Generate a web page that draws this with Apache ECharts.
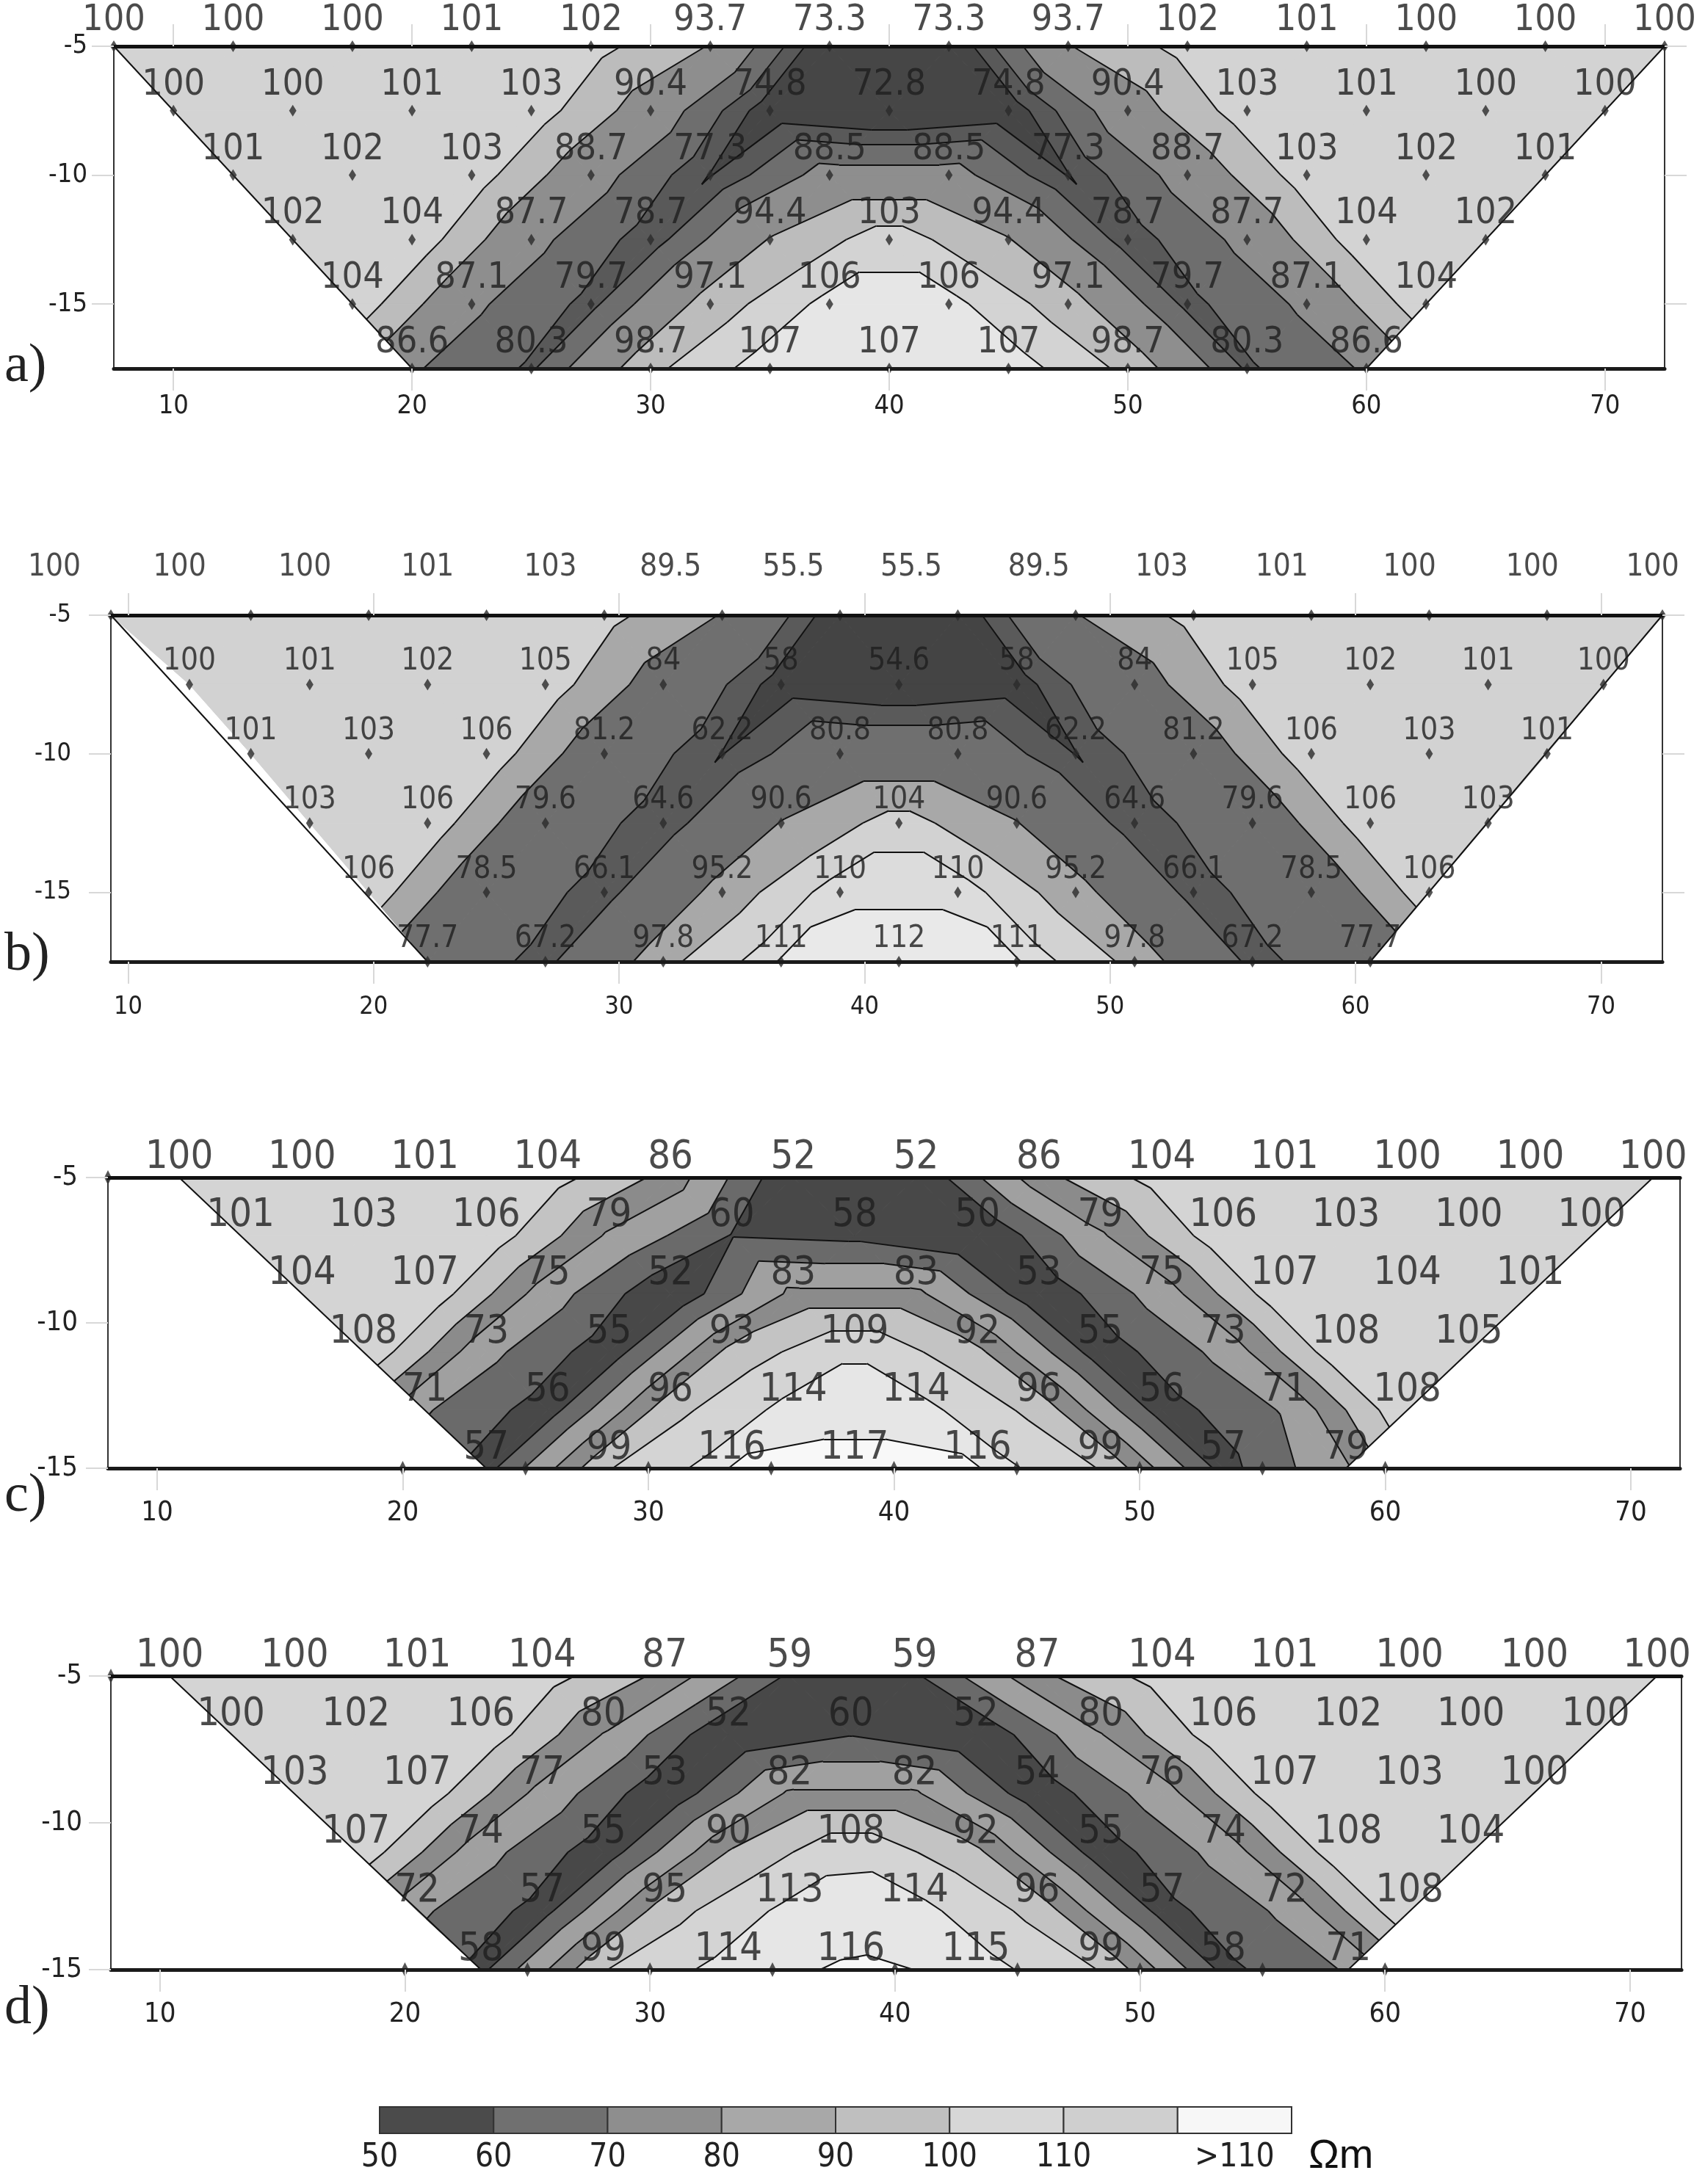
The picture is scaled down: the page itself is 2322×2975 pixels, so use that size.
<!DOCTYPE html>
<html>
<head>
<meta charset="utf-8">
<script src="https://cdn.jsdelivr.net/npm/echarts@6/dist/echarts.min.js"></script>
<style>
  html, body { margin: 0; padding: 0; background: #fff; }
  #chart { width: 2322px; height: 2975px; }
</style>
</head>
<body>
<div id="chart"></div>
<script>
// axis ticks shared by all four sections
const xTicks = [10, 20, 30, 40, 50, 60, 70]
const yTicks = [-15, -10, -5]

// section a : node positions (half-spacing), depth of each row, values per row
const aX = [7.5, 10, 12.5, 15, 17.5, 20, 22.5, 25, 27.5, 30, 32.5, 35, 37.5, 40, 42.5, 45, 47.5, 50, 52.5, 55, 57.5, 60, 62.5, 65, 67.5, 70, 72.5]
const aDepth = [-5, -7.5, -10, -12.5, -15, -17.5]
const aRows = [
  [100, 100, 100, 101, 102, 93.7, 73.3, 73.3, 93.7, 102, 101, 100, 100, 100],
  [100, 100, 101, 103, 90.4, 74.8, 72.8, 74.8, 90.4, 103, 101, 100, 100],
  [101, 102, 103, 88.7, 77.3, 88.5, 88.5, 77.3, 88.7, 103, 102, 101],
  [102, 104, 87.7, 78.7, 94.4, 103, 94.4, 78.7, 87.7, 104, 102],
  [104, 87.1, 79.7, 97.1, 106, 106, 97.1, 79.7, 87.1, 104],
  [86.6, 80.3, 98.7, 107, 107, 107, 98.7, 80.3, 86.6]
]
const aLevels = [77.5, 81, 86, 94, 99.9, 104.5]

// section b
const bX = [9.3, 12.5, 15.0, 17.4, 19.8, 22.2, 24.6, 27.0, 29.4, 31.8, 34.2, 36.6, 39.0, 41.4, 43.8, 46.2, 48.6, 51.0, 53.4, 55.8, 58.2, 60.6, 63.0, 65.4, 67.8, 70.1, 72.5]
const bDepth = [-5, -7.5, -10, -12.5, -15, -17.5]
const bRows = [
  [100, 100, 100, 101, 103, 89.5, 55.5, 55.5, 89.5, 103, 101, 100, 100, 100],
  [100, 101, 102, 105, 84, 58, 54.6, 58, 84, 105, 102, 101, 100],
  [101, 103, 106, 81.2, 62.2, 80.8, 80.8, 62.2, 81.2, 106, 103, 101],
  [103, 106, 79.6, 64.6, 90.6, 104, 90.6, 64.6, 79.6, 106, 103],
  [106, 78.5, 66.1, 95.2, 110, 110, 95.2, 66.1, 78.5, 106],
  [77.7, 67.2, 97.8, 111, 112, 111, 97.8, 67.2, 77.7]
]
// the surface-row labels of b are printed on their own spacing
const bTopLabelX = [7.0, 12.1, 17.2, 22.2, 27.2, 32.1, 37.1, 41.9, 47.1, 52.1, 57.0, 62.2, 67.2, 72.1]
const bLevels = [62.5, 70, 90, 99.9, 106.5, 110.5]

// section c
const cX = [10.9, 13.4, 15.9, 18.4, 20.9, 23.4, 25.9, 28.4, 30.9, 33.4, 35.9, 38.4, 40.9, 43.4, 45.9, 48.4, 50.9, 53.4, 55.9, 58.4, 60.9, 63.4, 65.9, 68.4, 70.9]
const cDepth = [-5, -7, -9, -11, -13, -15]
const cRows = [
  [100, 100, 101, 104, 86, 52, 52, 86, 104, 101, 100, 100, 100],
  [101, 103, 106, 79, 60, 58, 50, 79, 106, 103, 100, 100],
  [104, 107, 75, 52, 83, 83, 53, 75, 107, 104, 101],
  [108, 73, 55, 93, 109, 92, 55, 73, 108, 105],
  [71, 56, 96, 114, 114, 96, 56, 71, 108],
  [57, 99, 116, 117, 116, 99, 57, 79]
]
const cElectrodes = [[8, -5], [20, -15], [25, -15], [30, -15], [35, -15], [40, -15], [45, -15], [50, -15], [55, -15], [60, -15]]

// section d
const dX = [10.4, 12.9, 15.5, 18.0, 20.5, 23.1, 25.6, 28.1, 30.6, 33.2, 35.7, 38.2, 40.8, 43.3, 45.8, 48.4, 50.9, 53.4, 55.9, 58.5, 61.0, 63.5, 66.1, 68.6, 71.1]
const dDepth = [-5, -7, -9, -11, -13, -15]
const dRows = [
  [100, 100, 101, 104, 87, 59, 59, 87, 104, 101, 100, 100, 100],
  [100, 102, 106, 80, 52, 60, 52, 80, 106, 102, 100, 100],
  [103, 107, 77, 53, 82, 82, 54, 76, 107, 103, 100],
  [107, 74, 55, 90, 108, 92, 55, 74, 108, 104],
  [72, 57, 95, 113, 114, 96, 57, 72, 108],
  [58, 99, 114, 116, 115, 99, 58, 71]
]
const dElectrodes = [[8, -5], [20, -15], [25, -15], [30, -15], [35, -15], [40, -15], [45, -15], [50, -15], [55, -15], [60, -15]]
const cdLevels = [60.5, 70, 80.5, 89.5, 99.5, 110, 115.5]

// colour scale bar
const legendColors = ['#4b4b4b', '#707070', '#8e8e8e', '#a8a8a8', '#bfbfbf', '#d7d7d7', '#cfcfcf', '#f7f7f7']
const legendTickPos = [0, 1, 2, 3, 4, 5, 6, 7.5]
const legendTickLabels = ['50', '60', '70', '80', '90', '100', '110', '>110']

const COND = "'DejaVu Sans Condensed', 'DejaVu Sans', sans-serif"

const panels = [
  {
    xs: aX, depths: aDepth, rows: aRows, levels: aLevels, topLabelX: null,
    colors: ['#464646', '#595959', '#6e6e6e', '#8e8e8e', '#bcbcbc', '#d3d3d3', '#e6e6e6'],
    grid: { left: 155, top: 63, width: 2112, height: 439 },
    xMin: 7.5, xMax: 72.5, yMin: -17.5,
    labelSize: 50, axisSize: 36, xMargin: 34, yMargin: 36,
    nodeMarks: true, outerTicks: true, electrodes: null,
    tag: 'a)', tagY: 507
  },
  {
    xs: bX, depths: bDepth, rows: bRows, levels: bLevels, topLabelX: bTopLabelX,
    colors: ['#444444', '#5a5a5a', '#6f6f6f', '#a8a8a8', '#d2d2d2', '#dcdcdc', '#e9e9e9'],
    grid: { left: 151, top: 838, width: 2113, height: 472 },
    xMin: 9.3, xMax: 72.5, yMin: -17.5,
    labelSize: 42, axisSize: 34, xMargin: 45, yMargin: 54,
    nodeMarks: true, outerTicks: true, electrodes: null,
    tag: 'b)', tagY: 1309
  },
  {
    xs: cX, depths: cDepth, rows: cRows, levels: cdLevels, topLabelX: null,
    colors: ['#484848', '#6a6a6a', '#a0a0a0', '#8b8b8b', '#c3c3c3', '#d4d4d4', '#e6e6e6', '#f8f8f8'],
    grid: { left: 147, top: 1604, width: 2141, height: 396 },
    xMin: 8, xMax: 72, yMin: -15,
    labelSize: 54, axisSize: 38, xMargin: 42, yMargin: 41,
    nodeMarks: false, outerTicks: false, electrodes: cElectrodes,
    tag: 'c)', tagY: 2046
  },
  {
    xs: dX, depths: dDepth, rows: dRows, levels: cdLevels, topLabelX: null,
    colors: ['#484848', '#6a6a6a', '#a0a0a0', '#8b8b8b', '#c3c3c3', '#d4d4d4', '#e6e6e6', '#f8f8f8'],
    grid: { left: 151, top: 2283, width: 2139, height: 400 },
    xMin: 8, xMax: 72.1, yMin: -15,
    labelSize: 54, axisSize: 38, xMargin: 42, yMargin: 39,
    nodeMarks: false, outerTicks: false, electrodes: dElectrodes,
    tag: 'd)', tagY: 2744
  }
]

// node k of row r sits on the half-spacing column r + 2k
const buildNodes = (p) => p.rows.map((row, r) => row.map((v, k) => [p.xs[r + 2 * k], p.depths[r], v]))

const buildTriangles = (nodes) => {
  const tris = []
  for (let r = 0; r < nodes.length - 1; r++) {
    const up = nodes[r], dn = nodes[r + 1]
    for (let k = 0; k < dn.length; k++) {
      tris.push([up[k], up[k + 1], dn[k]])
      if (k < dn.length - 1) tris.push([dn[k], dn[k + 1], up[k + 1]])
    }
  }
  return tris
}

// keep the part of a polygon above (or below) a level, values interpolated linearly
const clipPoly = (poly, level, keepAbove) => {
  const out = []
  for (let i = 0; i < poly.length; i++) {
    const p = poly[i], q = poly[(i + 1) % poly.length]
    const pin = keepAbove ? p[2] >= level : p[2] < level
    const qin = keepAbove ? q[2] >= level : q[2] < level
    if (pin) out.push(p)
    if (pin !== qin) {
      const t = (level - p[2]) / (q[2] - p[2])
      out.push([p[0] + t * (q[0] - p[0]), p[1] + t * (q[1] - p[1]), level])
    }
  }
  return out
}

const buildBands = (tris, levels, colors) => {
  const polys = []
  tris.forEach(tri => {
    for (let b = 0; b <= levels.length; b++) {
      let poly = tri
      if (b > 0) poly = clipPoly(poly, levels[b - 1], true)
      if (poly.length >= 3 && b < levels.length) poly = clipPoly(poly, levels[b], false)
      if (poly.length >= 3) polys.push({ pts: poly, color: colors[b] })
    }
  })
  return polys
}

const buildContours = (tris, levels) => {
  const segs = []
  levels.forEach(L => {
    tris.forEach(t => {
      const pts = []
      for (let i = 0; i < 3; i++) {
        const p = t[i], q = t[(i + 1) % 3]
        if ((p[2] >= L) !== (q[2] >= L)) {
          const s = (L - p[2]) / (q[2] - p[2])
          pts.push([p[0] + s * (q[0] - p[0]), p[1] + s * (q[1] - p[1])])
        }
      }
      if (pts.length === 2) segs.push(pts)
    })
  })
  return segs
}

const chart = echarts.init(document.getElementById('chart'))
const option = {
  animation: false,
  backgroundColor: '#ffffff',
  grid: [], xAxis: [], yAxis: [], series: [], graphic: []
}

const tickStyle = { color: '#d8d8d8', width: 2 }

panels.forEach((p, i) => {
  const nodes = buildNodes(p)
  const tris = buildTriangles(nodes)
  const bands = buildBands(tris, p.levels, p.colors)
  const contours = buildContours(tris, p.levels)
  const first = nodes.map(row => row[0])
  const last = nodes.map(row => row[row.length - 1])
  const edges = [
    [first[0].slice(0, 2), first[first.length - 1].slice(0, 2)],
    [last[0].slice(0, 2), last[last.length - 1].slice(0, 2)]
  ]

  option.grid.push(Object.assign({}, p.grid))
  const xi = option.xAxis.length
  const yi = option.yAxis.length

  option.xAxis.push({
    gridIndex: i, type: 'value', position: 'bottom', min: p.xMin, max: p.xMax, z: 10,
    axisLine: { onZero: false, lineStyle: { color: '#1a1a1a', width: 5 } },
    axisTick: { show: true, length: 30, customValues: xTicks, lineStyle: tickStyle },
    axisLabel: { customValues: xTicks, margin: p.xMargin, fontFamily: COND, fontSize: p.axisSize, color: '#222' },
    splitLine: { show: false }
  })
  option.xAxis.push({
    gridIndex: i, type: 'value', position: 'top', min: p.xMin, max: p.xMax, z: 10,
    axisLine: { onZero: false, lineStyle: { color: '#111', width: 5 } },
    axisTick: { show: p.outerTicks, length: 30, customValues: xTicks, lineStyle: tickStyle },
    axisLabel: { show: false },
    splitLine: { show: false }
  })
  option.yAxis.push({
    gridIndex: i, type: 'value', position: 'left', min: p.yMin, max: -5, z: 10,
    axisLine: { show: true, onZero: false, lineStyle: { color: '#333', width: 2 } },
    axisTick: { show: true, length: 30, customValues: yTicks, lineStyle: tickStyle },
    axisLabel: { customValues: yTicks, margin: p.yMargin, fontFamily: COND, fontSize: p.axisSize, color: '#222' },
    splitLine: { show: false }
  })
  option.yAxis.push({
    gridIndex: i, type: 'value', position: 'right', min: p.yMin, max: -5, z: 10,
    axisLine: { show: true, onZero: false, lineStyle: { color: '#333', width: 2 } },
    axisTick: { show: p.outerTicks, length: 30, customValues: yTicks, lineStyle: tickStyle },
    axisLabel: { show: false },
    splitLine: { show: false }
  })

  // filled contour bands
  option.series.push({
    type: 'custom', xAxisIndex: xi, yAxisIndex: yi, z: 1, silent: true,
    data: bands.map(b => [b.pts[0][0], b.pts[0][1]]),
    renderItem: (params, api) => {
      const b = bands[params.dataIndex]
      return {
        type: 'polygon',
        shape: { points: b.pts.map(pt => api.coord([pt[0], pt[1]])) },
        style: { fill: b.color, stroke: b.color, lineWidth: 1 }
      }
    }
  })

  // contour lines and the section outline
  option.series.push({
    type: 'lines', coordinateSystem: 'cartesian2d', xAxisIndex: xi, yAxisIndex: yi, z: 3, silent: true,
    polyline: false,
    lineStyle: { color: '#111', width: 2, opacity: 1 },
    data: contours.concat(edges).map(s => ({ coords: s }))
  })

  // value labels (with node diamonds for a and b)
  const labelData = []
  nodes.forEach((row, r) => row.forEach(n => {
    if (r === 0 && p.topLabelX) labelData.push({ value: n, label: { show: false } })
    else labelData.push({ value: n })
  }))
  option.series.push({
    type: 'scatter', xAxisIndex: xi, yAxisIndex: yi, z: 5, silent: true, clip: false,
    symbol: 'diamond',
    symbolSize: p.nodeMarks ? [10, 16] : 0,
    itemStyle: { color: '#2a2a2a' },
    data: labelData,
    label: {
      show: true, position: 'top', distance: p.nodeMarks ? 2 : 0,
      formatter: (d) => String(d.value[2]),
      fontFamily: COND, fontSize: p.labelSize, color: '#1e1e1e'
    }
  })

  if (p.topLabelX) {
    option.series.push({
      type: 'scatter', xAxisIndex: xi, yAxisIndex: yi, z: 5, silent: true, clip: false,
      symbolSize: 0,
      data: nodes[0].map((n, k) => [p.topLabelX[k], n[1], n[2]]),
      label: {
        show: true, position: 'top', distance: 44,
        formatter: (d) => String(d.value[2]),
        fontFamily: COND, fontSize: p.labelSize, color: '#1e1e1e'
      }
    })
  }

  if (p.electrodes) {
    option.series.push({
      type: 'scatter', xAxisIndex: xi, yAxisIndex: yi, z: 6, silent: true, clip: false,
      symbol: 'diamond', symbolSize: [10, 20],
      itemStyle: { color: '#2a2a2a' },
      data: p.electrodes
    })
  }

  option.graphic.push({
    type: 'text', left: 6, top: p.tagY - 44,
    style: { text: p.tag, fontFamily: "'Liberation Serif', 'DejaVu Serif', serif", fontSize: 74, fill: '#222' }
  })
})

// colour bar
option.grid.push({ left: 517, top: 2870, width: 1242, height: 36 })
option.xAxis.push({
  gridIndex: 4, type: 'value', min: 0, max: 8,
  axisLine: { show: false }, axisTick: { show: false }, splitLine: { show: false },
  axisLabel: {
    customValues: legendTickPos, margin: 12,
    formatter: (v) => legendTickLabels[legendTickPos.indexOf(v)],
    fontFamily: COND, fontSize: 44, color: '#222'
  }
})
option.yAxis.push({
  gridIndex: 4, type: 'value', min: 0, max: 1, show: false
})
option.series.push({
  type: 'custom', xAxisIndex: option.xAxis.length - 1, yAxisIndex: option.yAxis.length - 1, silent: true,
  data: legendColors.map((c, i) => [i, 0]),
  renderItem: (params, api) => {
    const i = params.dataIndex
    const p0 = api.coord([i, 1])
    const p1 = api.coord([i + 1, 0])
    return {
      type: 'rect',
      shape: { x: p0[0], y: p0[1], width: p1[0] - p0[0], height: p1[1] - p0[1] },
      style: { fill: legendColors[i], stroke: '#333', lineWidth: 2 }
    }
  }
})
option.graphic.push({
  type: 'text', left: 1782, top: 2910,
  style: { text: 'Ωm', fontFamily: "'Liberation Sans', sans-serif", fontSize: 56, fill: '#111' }
})

chart.setOption(option)
</script>
</body>
</html>
